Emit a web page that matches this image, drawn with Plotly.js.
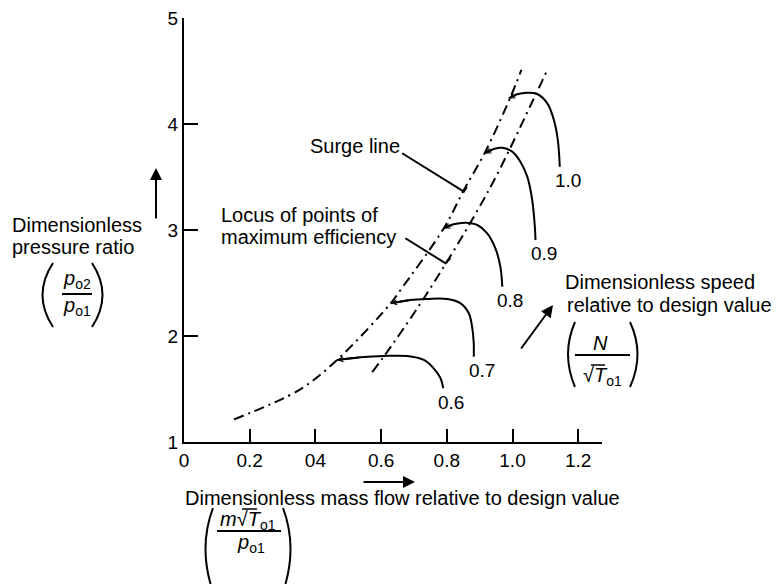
<!DOCTYPE html>
<html><head><meta charset="utf-8">
<script src="https://cdn.plot.ly/plotly-3.0.1.min.js"></script>
<style>html,body{margin:0;padding:0;background:#fff}#chart{width:779px;height:584px}</style>
</head><body><div id="chart"></div>
<script>
// ---- data ----
const xTickVals = [0, 0.2, 0.4, 0.6, 0.8, 1.0, 1.2];
const xTickText = ['0', '0.2', '04', '0.6', '0.8', '1.0', '1.2'];
const yTickVals = [1, 2, 3, 4, 5];
const yTickText = ['1', '2', '3', '4', '5'];

const surgeX = [0.152, 0.35, 0.466, 0.629, 0.659, 0.791, 0.852, 0.916, 0.992, 1.027];
const surgeY = [1.214, 1.49, 1.774, 2.308, 2.434, 3.016, 3.377, 3.73, 4.24, 4.51];

const maxEffX = [0.573, 0.608, 0.740, 0.928, 1.070, 1.106];
const maxEffY = [1.66, 1.805, 2.403, 3.377, 4.274, 4.51];

const speedLabels = ['0.6', '0.7', '0.8', '0.9', '1.0'];
const speed06X = [0.466, 0.537, 0.608, 0.679, 0.730, 0.760, 0.781, 0.789];
const speed06Y = [1.774, 1.799, 1.811, 1.811, 1.774, 1.695, 1.601, 1.507];
const speed07X = [0.629, 0.689, 0.740, 0.801, 0.842, 0.867, 0.877, 0.882, 0.882];
const speed07Y = [2.308, 2.340, 2.349, 2.349, 2.308, 2.214, 2.088, 1.931, 1.805];
const speed08X = [0.791, 0.821, 0.857, 0.893, 0.923, 0.948, 0.963, 0.969];
const speed08Y = [3.016, 3.054, 3.069, 3.047, 2.969, 2.827, 2.654, 2.465];
const speed09X = [0.916, 0.943, 0.969, 0.999, 1.024, 1.045, 1.060, 1.068, 1.070];
const speed09Y = [3.724, 3.764, 3.776, 3.739, 3.644, 3.503, 3.283, 3.031, 2.906];
const speed10X = [0.989, 1.014, 1.045, 1.075, 1.106, 1.126, 1.138, 1.144];
const speed10Y = [4.242, 4.280, 4.295, 4.283, 4.195, 4.038, 3.849, 3.597];

// ---- layout helpers ----
const FAM = '"Liberation Sans", Arial, sans-serif';
const FONT = {family: FAM, size: 20, color: '#000'};
const TFONT = {family: FAM, size: 19, color: '#000'};
const L = 184, R = 177, T = 18, B = 142, W = 779, H = 584;
const PW = W - L - R, PH = H - T - B;
const P = (px, py) => [(px - L) / PW, (H - B - py) / PH];

const speedSets = [
  [speed06X, speed06Y], [speed07X, speed07Y], [speed08X, speed08Y],
  [speed09X, speed09Y], [speed10X, speed10Y]
];

const dashDot = '10px,5px,2px,5px';
const traces = [
  {x: surgeX, y: surgeY, mode: 'lines', line: {color: '#000', width: 2, dash: dashDot, shape: 'spline'}, hoverinfo: 'skip'},
  {x: maxEffX, y: maxEffY, mode: 'lines', line: {color: '#000', width: 2, dash: dashDot, shape: 'spline'}, hoverinfo: 'skip'}
];
speedSets.forEach(([xs, ys]) => traces.push({
  x: xs, y: ys, mode: 'lines', line: {color: '#000', width: 2, shape: 'spline'}, hoverinfo: 'skip'
}));

function pann(text, px, py, opts) {
  const [x, y] = P(px, py);
  return Object.assign({xref: 'paper', yref: 'paper', x, y, text, showarrow: false,
    xanchor: 'center', yanchor: 'middle', font: FONT, borderpad: 0}, opts || {});
}
function parenPath(x1, y1, cx, cy, x2, y2) {
  const a = P(x1, y1), c = P(cx, cy), b = P(x2, y2);
  return {type: 'path', xref: 'paper', yref: 'paper',
    path: `M ${a[0]},${a[1]} Q ${c[0]},${c[1]} ${b[0]},${b[1]}`,
    line: {color: '#000', width: 2}};
}
function pline(x1, y1, x2, y2, w) {
  const a = P(x1, y1), b = P(x2, y2);
  return {type: 'line', xref: 'paper', yref: 'paper', x0: a[0], y0: a[1], x1: b[0], y1: b[1],
    line: {color: '#000', width: w || 2}};
}
function parrow(tipX, tipY, tailX, tailY) {
  const [x, y] = P(tipX, tipY);
  return {xref: 'paper', yref: 'paper', x, y, ax: tailX - tipX, ay: tailY - tipY, text: '',
    showarrow: true, arrowhead: 2, arrowsize: 1.2, arrowwidth: 2, arrowcolor: '#000'};
}

const annotations = [];
// curve arrowheads and speed labels
speedSets.forEach(([xs, ys], i) => {
  annotations.push({xref: 'x', yref: 'y', x: xs[0], y: ys[0], axref: 'x', ayref: 'y',
    ax: xs[1], ay: ys[1], text: '', showarrow: true, arrowhead: 5, arrowsize: 0.5,
    arrowwidth: 2, arrowcolor: '#000'});
  const n = xs.length - 1;
  annotations.push({xref: 'x', yref: 'y', x: xs[n], y: ys[n], text: speedLabels[i],
    showarrow: false, xanchor: 'center', yanchor: 'middle', xshift: 8, yshift: -14, font: TFONT});
});

annotations.push(
  pann('Surge line', 401, 146, {xanchor: 'right'}),
  pann('Locus of points of', 220, 215, {xanchor: 'left'}),
  pann('maximum efficiency', 220, 237, {xanchor: 'left'}),
  // y label
  pann('Dimensionless', 11, 225, {xanchor: 'left'}),
  pann('pressure ratio', 11, 247, {xanchor: 'left'}),
  pann('<i>p</i><sub>o2</sub>', 77, 279),
  pann('<i>p</i><sub>o1</sub>', 77, 306),
  parrow(156, 168, 156, 220),
  // x label
  pann('Dimensionless mass flow relative to design value', 184, 498, {xanchor: 'left'}),
  pann('<i>m</i>√<i>T</i><sub>o1</sub>', 248, 520),
  pann('<i>p</i><sub>o1</sub>', 251, 543),
  parrow(415, 482, 362, 482),
  // speed label
  pann('Dimensionless speed', 564, 282, {xanchor: 'left'}),
  pann('relative to design value', 566, 305, {xanchor: 'left'}),
  pann('<i>N</i>', 600, 343),
  pann('√<i>T</i><sub>o1</sub>', 602, 376),
  parrow(553, 305, 520, 350)
);

const shapes = [
  // leaders
  {type: 'path', xref: 'x', yref: 'y', path: 'M 0.664,3.724 L 0.852,3.362 L 0.861,3.405', line: {color: '#000', width: 2}},
  {type: 'path', xref: 'x', yref: 'y', path: 'M 0.674,2.922 L 0.796,2.686 L 0.811,2.733', line: {color: '#000', width: 2}},
  // y fraction
  pline(62, 294, 92, 294),
  parenPath(53, 263, 32, 295, 53, 327),
  parenPath(92, 263, 113, 295, 92, 327),
  // x fraction
  pline(217, 531, 281, 531),
  pline(242, 509, 257, 509, 1.5),
  parenPath(213, 508, 198, 548, 213, 592),
  parenPath(283, 508, 298, 548, 283, 592),
  // speed fraction
  pline(575, 355, 630, 355),
  pline(591, 365, 605, 365, 1.5),
  parenPath(575, 322, 561, 354, 575, 387),
  parenPath(630, 322, 645, 354, 630, 387)
];

const layout = {
  width: W, height: H,
  margin: {l: L, r: R, t: T, b: B, pad: 0},
  paper_bgcolor: '#fff', plot_bgcolor: '#fff',
  showlegend: false,
  font: FONT,
  xaxis: {range: [0, PW / 328.5], tickvals: xTickVals, ticktext: xTickText,
    ticks: 'inside', ticklen: 13, tickwidth: 2, tickcolor: '#000',
    showline: true, linewidth: 2, linecolor: '#000', showgrid: false, zeroline: false,
    tickfont: TFONT, fixedrange: true},
  yaxis: {range: [1, 5], tickvals: yTickVals, ticktext: yTickText,
    ticks: 'inside', ticklen: 14, tickwidth: 2, tickcolor: '#000',
    showline: true, linewidth: 2, linecolor: '#000', showgrid: false, zeroline: false,
    tickfont: TFONT, fixedrange: true},
  annotations, shapes
};

Plotly.newPlot('chart', traces, layout, {displayModeBar: false, staticPlot: true});
</script>
</body></html>
